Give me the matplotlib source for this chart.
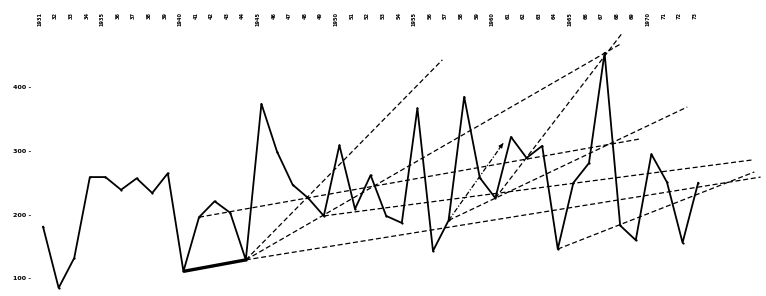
import matplotlib
matplotlib.use("Agg")
import matplotlib.pyplot as plt
import matplotlib.transforms as mtransforms

years = list(range(1931, 1974))
values = [182, 86, 133, 260, 260, 240, 258, 235, 266, 112,
          197, 222, 204, 130, 375, 300, 248, 227, 199, 310,
          210, 263, 199, 188, 368, 144, 192, 386, 259, 227,
          323, 290, 309, 147, 251, 282, 455, 184, 161, 296,
          252, 157, 251]

year_labels = [str(y) if (y % 5 == 0 or y == 1931) else f"{y % 100:02d}" for y in years]
y_ticks = [100, 200, 300, 400]

# dashed trend lines: start at a data year, end at a read point
trend_start_years = [1941, 1944, 1944, 1944, 1949, 1957, 1960, 1964]
trend_end_years = [1969.3, 1956.6, 1968.1, 1977.0, 1976.5, 1972.3, 1968.1, 1976.6]
trend_end_values = [320, 444, 470, 260, 287, 370, 485, 268]

arrow_start_year = 1957
arrow_end = (1960.5, 313)

bold_start_year = 1940
bold_end_year = 1944

fig = plt.figure(figsize=(7.66, 2.96), dpi=100)
ax = fig.add_axes([0, 0, 1, 1])
ax.set_xlim(1928.24, 1977.35)
ax.set_ylim(73.3, 538)
ax.axis("off")

val = dict(zip(years, values))

# trend lines
for sy, ey, ev in zip(trend_start_years, trend_end_years, trend_end_values):
    ax.plot([sy, ey], [val[sy], ev], color="black", lw=0.9,
            linestyle=(0, (4, 2.2)), zorder=2)

# short arrow line
ax.plot([arrow_start_year, arrow_end[0]], [val[arrow_start_year], arrow_end[1]],
        color="black", lw=0.9, linestyle=(0, (4, 1.5, 1, 1.5)), zorder=2)
ax.annotate("", xy=arrow_end,
            xytext=(arrow_end[0] - 0.25, arrow_end[1] - 8),
            arrowprops=dict(arrowstyle="-|>", color="black", lw=0.8,
                            mutation_scale=6, shrinkA=0, shrinkB=0))

# bold segment
ax.plot([bold_start_year, bold_end_year], [val[bold_start_year], val[bold_end_year]],
        color="black", lw=2.4, solid_capstyle="butt", zorder=3)

# main series
ax.plot(years, values, color="black", lw=1.3, zorder=4,
        marker="o", markersize=1.6, markerfacecolor="black", markeredgewidth=0)

# y tick labels
trans_y = mtransforms.blended_transform_factory(fig.transFigure, ax.transData)
for t in y_ticks:
    ax.text(31 / 766, t, f"{t} -", transform=trans_y, ha="right", va="center",
            fontsize=4.6, fontweight="bold", color="black")

# top year labels
trans_x = mtransforms.blended_transform_factory(ax.transData, fig.transFigure)
for yr, lab in zip(years, year_labels):
    ax.text(yr - 0.2, 1 - 12 / 296, lab, transform=trans_x, rotation=90,
            ha="center", va="top", fontsize=3.6, fontweight="bold", color="black")

fig.savefig("out.png", dpi=100, facecolor="white")
